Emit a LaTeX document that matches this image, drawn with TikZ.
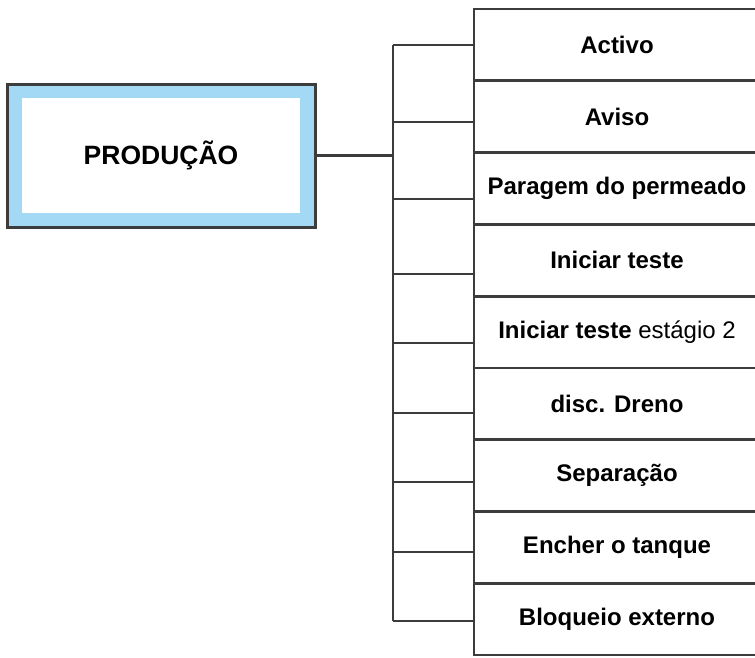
\documentclass[tikz,border=0pt]{standalone}
\usepackage{fontspec}
\setmainfont{Liberation Sans}
\definecolor{linegray}{HTML}{3C3C3C}
\definecolor{bandblue}{HTML}{A4D9F5}
\begin{document}
\begin{tikzpicture}[x=1pt,y=-1pt,
  conn/.style={draw=linegray,line width=2.8pt},
  itembox/.style={draw=linegray,line width=2.8pt,fill=white,rectangle,minimum width=286pt,minimum height=71.78pt,inner sep=0pt,font=\fontsize{24}{28}\selectfont\bfseries},
  prodbox/.style={draw=linegray,line width=3pt,fill=bandblue,rectangle,minimum width=308pt,minimum height=143pt,inner sep=0pt},
  prodin/.style={fill=white,rectangle,minimum width=278pt,minimum height=115pt,inner sep=0pt,font=\fontsize{26.5}{30}\selectfont\bfseries}]
\useasboundingbox (0,0) rectangle (755,657);
\clip (0,0) rectangle (755,657);
\fill[white] (0,0) rectangle (755,657);
% main box
\node[prodbox] (prod) at (161,155.5) {};
\node[prodin] (prodtext) at (prod.center) {PRODUÇÃO};
% item boxes
\foreach \i/\t in {1/Activo,2/Aviso,3/Paragem do permeado,4/Iniciar teste,5/{Iniciar teste \mdseries estágio 2},6/disc. Dreno,7/Separação,8/Encher o tanque,9/Bloqueio externo}{
  \node[itembox] (b\i) at (617,{9+71.78*(\i-0.5)}) {\t};
}
% bracket coordinates
\foreach \i/\y in {1/45,2/122,3/199,4/274,5/343,6/413,7/482,8/552,9/621}{
  \coordinate (c\i) at (393,\y);
}
\draw[conn] (c1) -- (c9);
\foreach \i in {1,...,9}{
  \draw[conn] (c\i) -- (c\i -| b\i.west);
}
\draw[conn] (prod.east) -- (prod.east -| c1);
\end{tikzpicture}
\end{document}
